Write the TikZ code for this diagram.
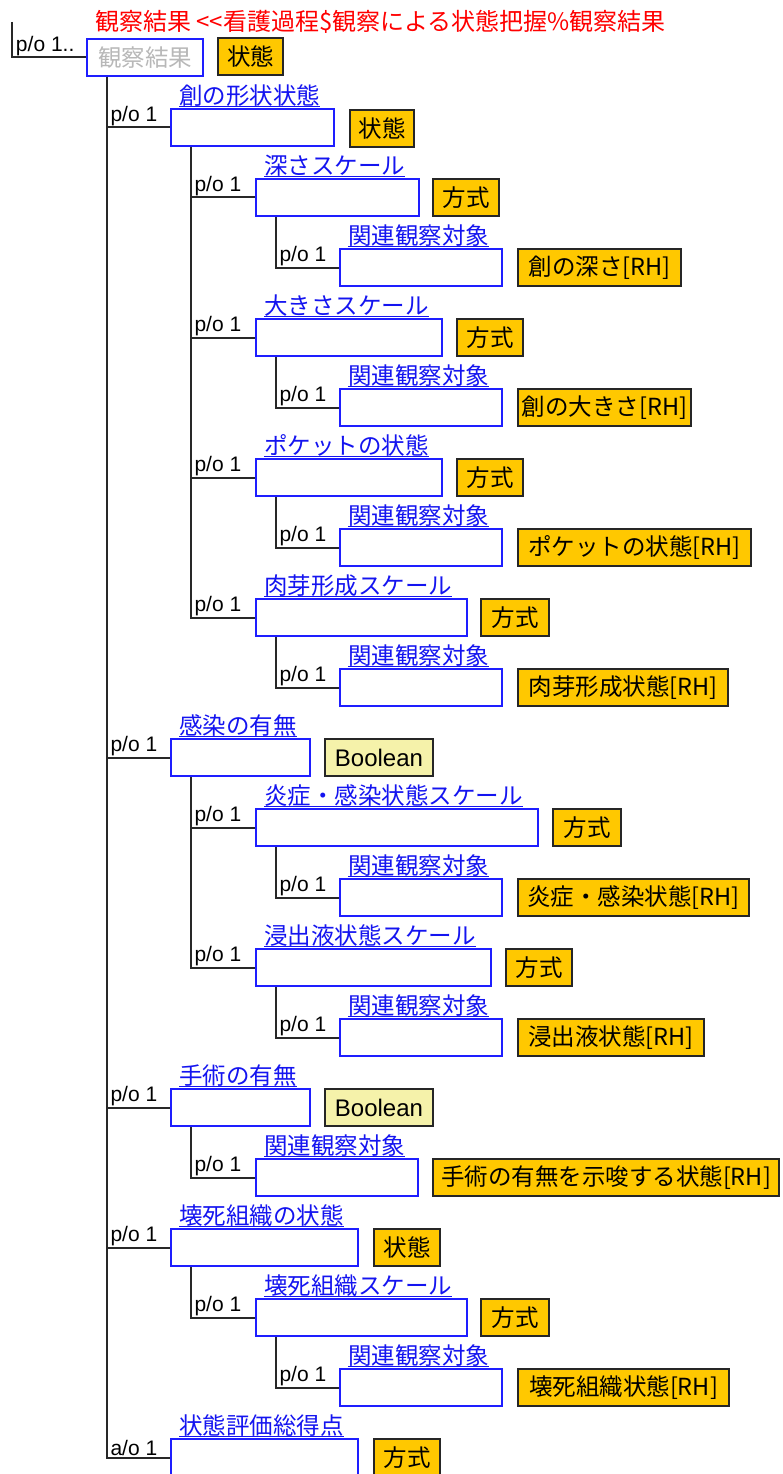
\documentclass[tikz,border=0pt]{standalone}
\usepackage{fontspec}
\setmainfont{Noto Sans CJK JP}
\newfontfamily\latf{Liberation Sans}
\definecolor{linec}{RGB}{40,40,40}
\definecolor{clsblue}{RGB}{30,30,255}
\definecolor{lblblue}{RGB}{20,20,240}
\definecolor{typyel}{RGB}{255,200,0}
\definecolor{boolyel}{RGB}{245,242,170}
\newcommand\jpf{\fontsize{23.5}{26}\selectfont}
\newcommand\cardf{\latf\fontsize{21}{24}\selectfont}
\tikzset{
 conn/.style={draw=linec, line width=2pt},
 clsbox/.style={draw=clsblue, line width=2pt, fill=white, anchor=north west, minimum height=37pt, inner sep=0pt},
 clslbl/.style={anchor=south west, inner sep=0pt, text=lblblue, font=\jpf},
 typbox/.style={draw=black!85, line width=2pt, fill=typyel, anchor=north west, minimum height=37pt, inner sep=0pt, font=\jpf},
 boolbox/.style={typbox, fill=boolyel, font=\latf\fontsize{24}{28}\selectfont},
 card/.style={anchor=south west, inner sep=0pt, font=\cardf, text=black, yshift=1pt, xshift=3pt},
}
\newcommand\mkcls[5]{%
 \node[clsbox, minimum width=#4pt] (#1) at (#2,#3) {};
 \node[clslbl] (#1-l) at ([xshift=9pt,yshift=1.5pt]#1.north west) {#5};
 \draw[lblblue, line width=1.3pt] (#1-l.south west) -- (#1-l.south east);}
\newcommand\mktyp[6]{\node[#6, minimum width=#4pt] (#1) at (#2,#3) {#5};}
\newcommand\mklink[3]{\draw[conn] ([xshift=20.5pt]#1.south west) |- (#2.west) node[card, pos=.5] {#3};}
\begin{document}
\begin{tikzpicture}[x=1pt,y=-1pt]
\fill[white] (0,0) rectangle (783,1474);
\useasboundingbox (0,0) rectangle (783,1474);
% root
\node[clsbox, minimum width=116pt, text=black!28, font=\jpf] (root) at (86,38) {観察結果};
\node[anchor=base west, inner sep=0pt, text=red, font=\fontsize{24}{26}\selectfont] (title) at (95,31) {観察結果 <{}<看護過程\$観察による状態把握\%観察結果};
\mktyp{rootT}{217}{37}{65}{状態}{typbox}
\coordinate (top) at (12,22);
\draw[conn] (top) |- (root.west) node[card, pos=.5] {p/o 1..};
% A
\mkcls{A}{170}{108}{163}{創の形状状態}
\mktyp{AT}{349}{109}{64}{状態}{typbox}
\mkcls{A1}{255}{178}{163}{深さスケール}
\mktyp{A1T}{432}{178}{66}{方式}{typbox}
\mkcls{A1r}{339}{248}{162}{関連観察対象}
\mktyp{A1rT}{517}{248}{163}{創の深さ[RH]}{typbox}
\mkcls{A2}{255}{318}{186}{大きさスケール}
\mktyp{A2T}{456}{318}{66}{方式}{typbox}
\mkcls{A2r}{339}{388}{162}{関連観察対象}
\mktyp{A2rT}{517}{388}{173}{創の大きさ[RH]}{typbox}
\mkcls{A3}{255}{458}{186}{ポケットの状態}
\mktyp{A3T}{456}{458}{66}{方式}{typbox}
\mkcls{A3r}{339}{528}{162}{関連観察対象}
\mktyp{A3rT}{517}{528}{233}{ポケットの状態[RH]}{typbox}
\mkcls{A4}{255}{598}{211}{肉芽形成スケール}
\mktyp{A4T}{480}{598}{68}{方式}{typbox}
\mkcls{A4r}{339}{668}{162}{関連観察対象}
\mktyp{A4rT}{517}{668}{210}{肉芽形成状態[RH]}{typbox}
% B
\mkcls{B}{170}{738}{139}{感染の有無}
\mktyp{BT}{324}{738}{108}{Boolean}{boolbox}
\mkcls{B1}{255}{808}{282}{炎症・感染状態スケール}
\mktyp{B1T}{552}{808}{68}{方式}{typbox}
\mkcls{B1r}{339}{878}{162}{関連観察対象}
\mktyp{B1rT}{517}{878}{231}{炎症・感染状態[RH]}{typbox}
\mkcls{B2}{255}{948}{235}{浸出液状態スケール}
\mktyp{B2T}{505}{948}{66}{方式}{typbox}
\mkcls{B2r}{339}{1018}{162}{関連観察対象}
\mktyp{B2rT}{517}{1018}{186}{浸出液状態[RH]}{typbox}
% C
\mkcls{C}{170}{1088}{139}{手術の有無}
\mktyp{CT}{324}{1088}{108}{Boolean}{boolbox}
\mkcls{C1}{255}{1158}{162}{関連観察対象}
\mktyp{C1T}{432}{1158}{346}{手術の有無を示唆する状態[RH]}{typbox}
% D
\mkcls{D}{170}{1228}{187}{壊死組織の状態}
\mktyp{DT}{373}{1228}{66}{状態}{typbox}
\mkcls{D1}{255}{1298}{211}{壊死組織スケール}
\mktyp{D1T}{480}{1298}{68}{方式}{typbox}
\mkcls{D1r}{339}{1368}{162}{関連観察対象}
\mktyp{D1rT}{517}{1368}{211}{壊死組織状態[RH]}{typbox}
% E
\mkcls{E}{170}{1438}{187}{状態評価総得点}
\mktyp{ET}{373}{1438}{66}{方式}{typbox}
% links
\mklink{root}{A}{p/o 1}
\mklink{root}{B}{p/o 1}
\mklink{root}{C}{p/o 1}
\mklink{root}{D}{p/o 1}
\mklink{root}{E}{a/o 1}
\mklink{A}{A1}{p/o 1}
\mklink{A}{A2}{p/o 1}
\mklink{A}{A3}{p/o 1}
\mklink{A}{A4}{p/o 1}
\mklink{A1}{A1r}{p/o 1}
\mklink{A2}{A2r}{p/o 1}
\mklink{A3}{A3r}{p/o 1}
\mklink{A4}{A4r}{p/o 1}
\mklink{B}{B1}{p/o 1}
\mklink{B}{B2}{p/o 1}
\mklink{B1}{B1r}{p/o 1}
\mklink{B2}{B2r}{p/o 1}
\mklink{C}{C1}{p/o 1}
\mklink{D}{D1}{p/o 1}
\mklink{D1}{D1r}{p/o 1}
\end{tikzpicture}
\end{document}
